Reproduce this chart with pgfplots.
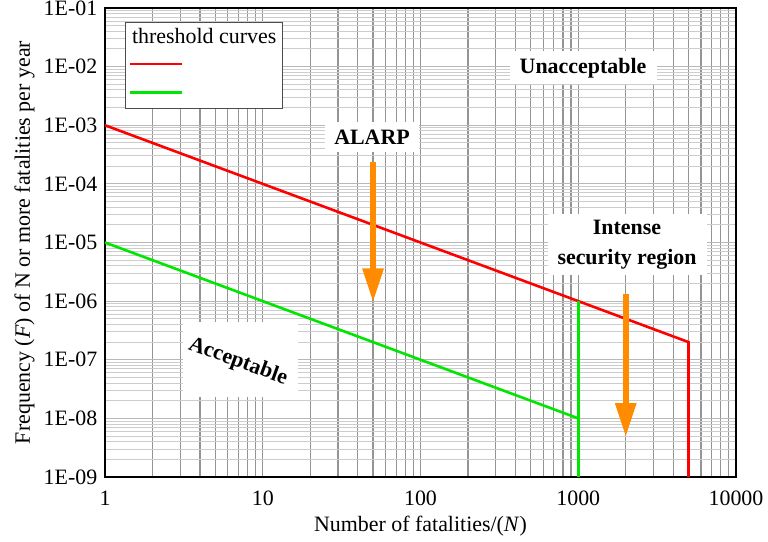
\documentclass[border=0pt]{standalone}
\usepackage{fontspec}
\setmainfont{Liberation Serif}
\usepackage{pgfplots}
\pgfplotsset{compat=1.18}
\usetikzlibrary{arrows.meta}

\definecolor{redline}{RGB}{255,0,0}
\definecolor{greenline}{RGB}{0,230,0}
\definecolor{arroworange}{RGB}{255,140,0}

\begin{document}
\fontsize{11}{13}\selectfont
\begin{tikzpicture}
\begin{axis}[
    name=ax,
    xmode=log, ymode=log,
    scale only axis, width=315.5bp, height=234.5bp,
    xmin=1, xmax=10000, ymin=1e-9, ymax=1e-1,
    xtick={1,10,100,1000,10000},
    xticklabels={1,10,100,1000,10000},
    ytick={1e-9,1e-8,1e-7,1e-6,1e-5,1e-4,1e-3,1e-2,1e-1},
    yticklabels={1E-09,1E-08,1E-07,1E-06,1E-05,1E-04,1E-03,1E-02,1E-01},
    minor xtick={2,3,4,5,6,7,8,9,20,30,40,50,60,70,80,90,200,300,400,500,600,700,800,900,2000,3000,4000,5000,6000,7000,8000,9000},
    minor ytick={2e-9,3e-9,4e-9,5e-9,6e-9,7e-9,8e-9,9e-9,
                 2e-8,3e-8,4e-8,5e-8,6e-8,7e-8,8e-8,9e-8,
                 2e-7,3e-7,4e-7,5e-7,6e-7,7e-7,8e-7,9e-7,
                 2e-6,3e-6,4e-6,5e-6,6e-6,7e-6,8e-6,9e-6,
                 2e-5,3e-5,4e-5,5e-5,6e-5,7e-5,8e-5,9e-5,
                 2e-4,3e-4,4e-4,5e-4,6e-4,7e-4,8e-4,9e-4,
                 2e-3,3e-3,4e-3,5e-3,6e-3,7e-3,8e-3,9e-3,
                 2e-2,3e-2,4e-2,5e-2,6e-2,7e-2,8e-2,9e-2},
    grid=both,
    major tick length=0pt, minor tick length=0pt,
    axis line style={line width=1.1bp, black},
    major x grid style={black!42, line width=0.55bp},
    minor x grid style={black!42, line width=0.55bp},
    major y grid style={black!28, line width=0.5bp},
    minor y grid style={black!20, line width=0.5bp},
    tick label style={font=\fontsize{11}{13}\selectfont},
    label style={font=\fontsize{11}{13}\selectfont},
    xticklabel style={yshift=-3bp},
    xlabel style={yshift=2bp},
    ylabel style={yshift=-3bp},
    xlabel={Number of fatalities/(\textit{N})},
    ylabel={Frequency (\textit{F}) of N or more fatalities per year},
    legend style={at={(0.0317,0.970)}, anchor=north west, draw=black!70,
        line width=0.5bp, fill=white, inner xsep=1.5bp, inner ysep=2.5bp,
        row sep=2.8bp, nodes={inner xsep=1.5bp, inner ysep=0.3bp},
        font=\fontsize{11}{13}\selectfont},
    legend cell align=left,
    legend image code/.code={\draw[#1, line width=1.3bp] (0bp,0bp) -- (26bp,0bp);},
]
\addlegendimage{empty legend}
\addlegendentry{\hspace{-27bp}threshold curves}

% white label boxes over the grid
\node[fill=white, minimum width=73.5bp, minimum height=16.5bp, inner sep=0pt,
      font=\bfseries] at (axis cs:1072,9.5e-3) {Unacceptable};
\node[fill=white, minimum width=47bp, minimum height=15bp, inner sep=0pt,
      font=\bfseries] at (axis cs:49.3,6.3e-4) {ALARP};
\node[fill=white, align=center, inner xsep=5bp, inner ysep=3bp,
      font=\bfseries\fontsize{11}{15}\selectfont] at (axis cs:2037,9.1e-6)
      {Intense\\security region};
\fill[white] (axis cs:3.1,4.4e-7) rectangle (axis cs:16.7,2.3e-8);
\node[rotate=-20, font=\bfseries] at (axis cs:6.97,9.2e-8) {Acceptable};

\addplot[redline, line width=1.3bp] coordinates {(1,1e-3) (5000,2e-7) (5000,1e-9)};
\addlegendentry{\strut}
\addplot[greenline, line width=1.3bp] coordinates {(1,1e-5) (1000,1e-8)};
\addlegendentry{\strut}
\addplot[greenline, line width=1.3bp, forget plot] coordinates {(1000,1e-6) (1000,1e-9)};

\draw[arroworange, line width=3bp, -{Triangle[width=10bp,length=17bp]}]
    (axis cs:50,2.4e-4) -- (axis cs:50,9.5e-7);
\draw[arroworange, line width=3bp, -{Triangle[width=10bp,length=17bp]}]
    (axis cs:2000,1.3e-6) -- (axis cs:2000,4.8e-9);
\end{axis}
\pgfresetboundingbox
\path ([shift={(-52.5bp,-32.5bp)}]ax.south west) rectangle ([shift={(16bp,4bp)}]ax.north east);
\end{tikzpicture}
\end{document}
